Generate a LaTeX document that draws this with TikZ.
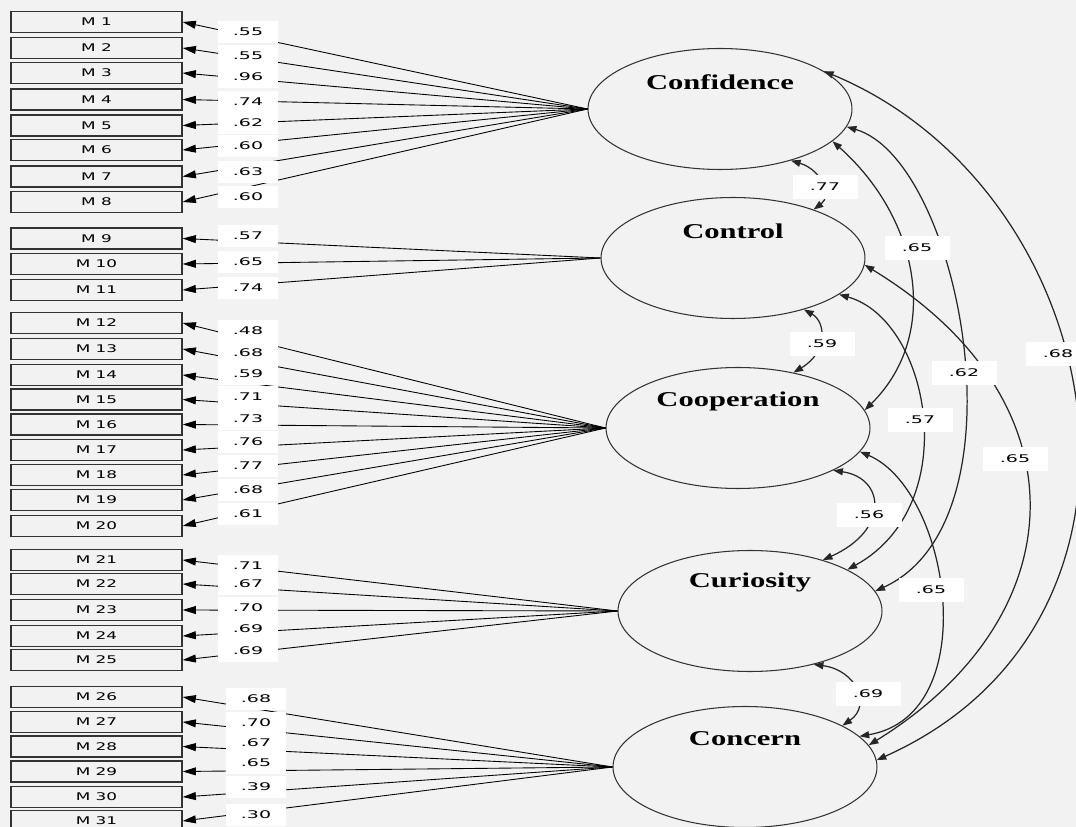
\documentclass[tikz,border=0pt]{standalone}
\usepackage{fontspec}
\usetikzlibrary{shapes.geometric,arrows.meta}
\newfontfamily\pixfont[FakeStretch=1.6]{DejaVu Sans}
\newfontfamily\numfont[FakeStretch=1.8]{DejaVu Sans}
\newfontfamily\latfont[FakeStretch=1.45]{Liberation Serif}
\definecolor{bgray}{HTML}{F2F2F2}
\definecolor{edge}{HTML}{333333}

\tikzset{
  mbox/.style={draw=edge, line width=0.8pt, fill=bgray, minimum width=3.42cm,
    minimum height=0.42cm, inner sep=0pt, font=\pixfont\fontsize{6}{6}\selectfont},
  latent/.style={ellipse, draw=edge, line width=0.6pt, minimum width=5.28cm,
    minimum height=2.42cm, inner sep=0pt},
  lname/.style={inner sep=0pt, font=\latfont\bfseries\fontsize{12}{12}\selectfont},
  lbl/.style={fill=white, minimum width=1.22cm, minimum height=0.44cm, inner sep=0pt,
    font=\numfont\fontsize{6}{6}\selectfont},
  rlbl/.style={lbl, minimum width=1.3cm, minimum height=0.48cm},
  load/.style={line width=0.5pt, -{Triangle[length=7.5pt,width=4.5pt]}},
  cor/.style={line width=0.7pt, draw=black!85,
    {Triangle[length=5.5pt,width=4pt]}-{Triangle[length=5.5pt,width=4pt]}}
}

\begin{document}
\begin{tikzpicture}[x=0.02cm,y=-0.02cm]
\clip (0,0) rectangle (1076,827);
\fill[bgray] (0,0) rectangle (1076,827);

% latent variables
\node[latent] (conf) at (720,109) {};
\node[latent] (ctrl) at (733,258) {};
\node[latent] (coop) at (738,428) {};
\node[latent] (curi) at (750,611) {};
\node[latent] (conc) at (745,767) {};
\node[lname] (conft) at ([yshift=0.54cm]conf.center) {Confidence};
\node[lname] (ctrlt) at ([yshift=0.54cm]ctrl.center) {Control};
\node[lname] (coopt) at ([yshift=0.54cm]coop.center) {Cooperation};
\node[lname] (curit) at ([yshift=0.58cm]curi.center) {Curiosity};
\node[lname] (conct) at ([yshift=0.56cm]conc.center) {Concern};

% observed items
\foreach \i/\y in {1/22,2/48,3/73,4/99.5,5/125.5,6/150,7/176.5,8/202,
  9/238.5,10/264,11/290,
  12/323,13/349,14/375,15/399.5,16/424.5,17/450,18/475,19/500,20/526,
  21/560,22/584,23/610,24/636,25/660,
  26/697,27/722,28/746.5,29/771.5,30/797,31/821} {
\node[mbox] (m\i) at (96.5,\y) {M \i};
}

% loadings
\foreach \i/\lat in {1/conf,2/conf,3/conf,4/conf,5/conf,6/conf,7/conf,8/conf,
  9/ctrl,10/ctrl,11/ctrl,
  12/coop,13/coop,14/coop,15/coop,16/coop,17/coop,18/coop,19/coop,20/coop,
  21/curi,22/curi,23/curi,24/curi,25/curi,
  26/conc,27/conc,28/conc,29/conc,30/conc,31/conc} {
\draw[load] (\lat.west) -- (m\i.east);
}

% correlations
\draw[cor] (conf.-36) .. controls (822,170) and (832,196) .. (ctrl.31);
\draw[cor] (ctrl.-36) .. controls (826,322) and (828,352) .. (coop.45);
\draw[cor] (coop.-24) .. controls (885,478) and (890,530) .. (curi.35);
\draw[cor] (curi.-40) .. controls (856,670) and (872,705) .. (conc.23);
\draw[cor] (conf.-16) .. controls (920,219) and (941,335) .. (coop.8);
\draw[cor] (ctrl.-19) .. controls (930,320) and (965,505) .. (curi.23);
\draw[cor] (conf.-8) .. controls (960,160) and (1030,520) .. (curi.9);
\draw[cor] (coop.-11) .. controls (950,490) and (985,715) .. (conc.15);
\draw[cor] (ctrl.-3) .. controls (1088,401) and (1076,617) .. (conc.10);
\draw[cor] (conf.20) .. controls (1110,190) and (1190,620) .. (conc.3);

% loading values
\foreach \i/\v/\lx/\ly in {1/.55/248/32,2/.55/248/56,3/.96/248/77,4/.74/248/102,
  5/.62/248/123,6/.60/248/146,7/.63/248/172,8/.60/248/197,
  9/.57/248/236,10/.65/248/262,11/.74/248/288,
  12/.48/248/331,13/.68/248/353,14/.59/248/374,15/.71/248/397,16/.73/248/419,
  17/.76/248/442,18/.77/248/466,19/.68/248/490,20/.61/248/514,
  21/.71/248/566,22/.67/248/584,23/.70/248/608,24/.69/248/629,25/.69/248/651,
  26/.68/256/699,27/.70/256/723,28/.67/256/743,29/.65/256/763,30/.39/256/787,
  31/.30/256/815} {
\node[lbl] (v\i) at (\lx,\ly) {\v};
}

% correlation values
\node[rlbl] (w12) at (825,187) {.77};
\node[rlbl] (w13) at (917,248) {.65};
\node[rlbl] (w23) at (822,344) {.59};
\node[rlbl] (w14) at (964,373) {.62};
\node[rlbl] (w15) at (1058,354) {.68};
\node[rlbl] (w24) at (920,420) {.57};
\node[rlbl] (w25) at (1015,459) {.65};
\node[rlbl] (w34) at (869,515) {.56};
\node[rlbl] (w35) at (931,590) {.65};
\node[rlbl] (w45) at (868,694) {.69};

\end{tikzpicture}
\end{document}
